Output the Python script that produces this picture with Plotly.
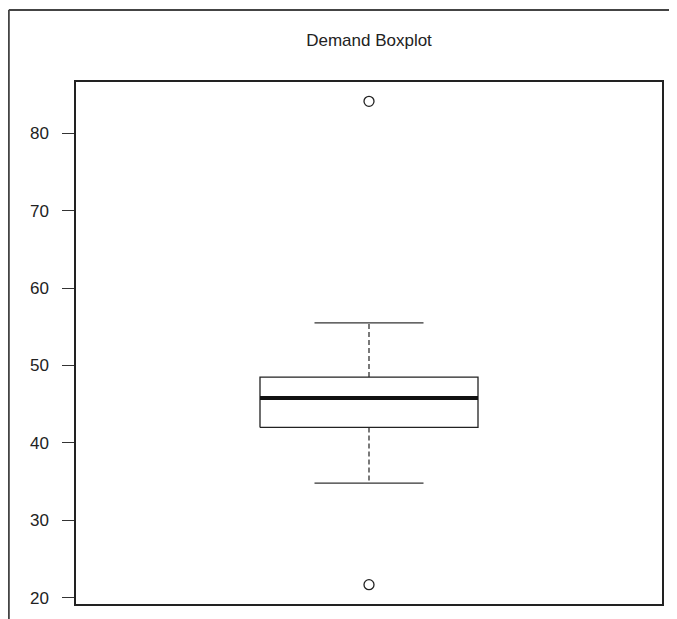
import plotly.graph_objects as go

# ---- data ----
title_text = "Demand Boxplot"
stats_q1 = 42.0
stats_median = 45.8
stats_q3 = 48.5
stats_lower_whisker = 34.8
stats_upper_whisker = 55.5
outliers = [84.1, 21.7]
y_ticks = [20, 30, 40, 50, 60, 70, 80]

# ---- style ----
center = 1.0
half_box = 0.372
half_cap = 0.186
ink = "#222222"

# page body has an 8px margin, so the figure is offset by (8, 8)
L, T, R, B = 68, 74, 23, 23
W, H = 677, 619
pw, ph = W - L - R, H - T - B

fig = go.Figure()

# whiskers (dashed)
fig.add_trace(go.Scatter(
    x=[center, center, None, center, center],
    y=[stats_q3, stats_upper_whisker, None, stats_q1, stats_lower_whisker],
    mode="lines", line=dict(color="#333333", width=1.3, dash="5px,3px"),
    hoverinfo="skip", showlegend=False))

# caps
fig.add_trace(go.Scatter(
    x=[center - half_cap, center + half_cap, None, center - half_cap, center + half_cap],
    y=[stats_upper_whisker, stats_upper_whisker, None, stats_lower_whisker, stats_lower_whisker],
    mode="lines", line=dict(color="#333333", width=1.3),
    hoverinfo="skip", showlegend=False))

# box
fig.add_trace(go.Scatter(
    x=[center - half_box, center + half_box, center + half_box, center - half_box, center - half_box],
    y=[stats_q1, stats_q1, stats_q3, stats_q3, stats_q1],
    mode="lines", line=dict(color=ink, width=1.3), fill="toself", fillcolor="white",
    hoverinfo="skip", showlegend=False))

# median
fig.add_trace(go.Scatter(
    x=[center - half_box, center + half_box],
    y=[stats_median, stats_median],
    mode="lines", line=dict(color="#111111", width=4),
    hoverinfo="skip", showlegend=False))

# outliers
fig.add_trace(go.Scatter(
    x=[center] * len(outliers), y=outliers, mode="markers",
    marker=dict(symbol="circle-open", size=10, color=ink, line=dict(width=1.3)),
    hoverinfo="skip", showlegend=False))

ymin = min(outliers + [stats_lower_whisker])
ymax = max(outliers + [stats_upper_whisker])
pad = (ymax - ymin) * 0.04

fx0 = (0.8 - L) / pw
fy1 = (H - B - 2) / ph

fig.update_layout(
    width=W, height=H,
    margin=dict(l=L, r=R, t=T, b=B),
    paper_bgcolor="white", plot_bgcolor="white",
    font=dict(family="Liberation Sans, Arial, sans-serif", color=ink, size=17),
    title=dict(text=title_text, x=(L + pw / 2) / W, xanchor="center",
               y=1 - 32 / H, yanchor="middle", yref="container",
               font=dict(size=17, color=ink)),
    xaxis=dict(range=[0, 2], showticklabels=False, ticks="", showgrid=False,
               zeroline=False, showline=True, mirror=True, linecolor=ink, linewidth=1.5),
    yaxis=dict(range=[ymin - pad, ymax + pad], tickvals=y_ticks,
               ticktext=[str(v) for v in y_ticks],
               ticks="outside", ticklen=12, tickwidth=1.3, tickcolor="#333333",
               ticklabelstandoff=10, showgrid=False, zeroline=False,
               showline=True, mirror=True, linecolor=ink, linewidth=1.5,
               tickfont=dict(size=17, color=ink)),
    shapes=[
        dict(type="line", xref="paper", yref="paper", x0=fx0, x1=1.5, y0=fy1, y1=fy1,
             line=dict(color="#444444", width=2), layer="below"),
        dict(type="line", xref="paper", yref="paper", x0=fx0, x1=fx0, y0=-0.5, y1=fy1,
             line=dict(color="#444444", width=2), layer="below"),
    ],
)

fig.write_html("out.html")
